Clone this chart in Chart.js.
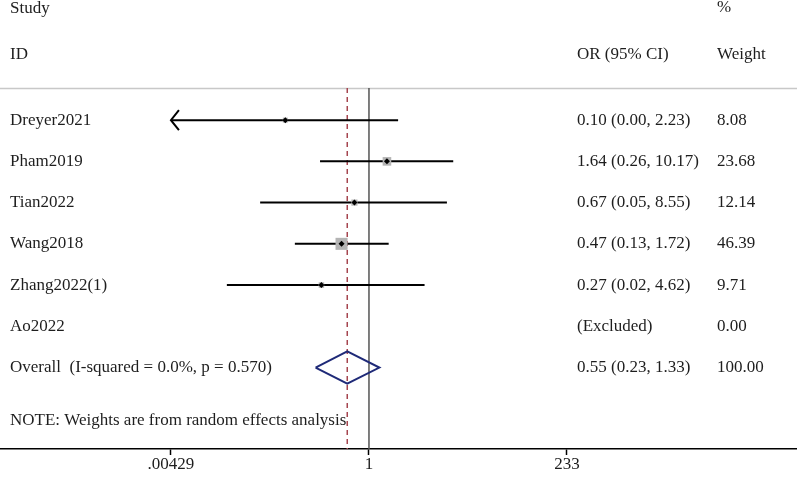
<!DOCTYPE html>
<html>
<head>
<meta charset="utf-8">
<script src="https://cdn.jsdelivr.net/npm/chart.js@4.4.1/dist/chart.umd.min.js"></script>
<style>
  html, body { margin: 0; padding: 0; background: #fff; }
  #wrap { width: 797px; height: 478px; position: relative; }
</style>
</head>
<body>
<div id="wrap"><canvas id="forest"></canvas></div>
<script>
// study data
const studies = ["Dreyer2021", "Pham2019", "Tian2022", "Wang2018", "Zhang2022(1)", "Ao2022"];
const orValues = [0.10, 1.64, 0.67, 0.47, 0.27, null];
const ciLower = [0.00, 0.26, 0.05, 0.13, 0.02, null];
const ciUpper = [2.23, 10.17, 8.55, 1.72, 4.62, null];
const weights = [8.08, 23.68, 12.14, 46.39, 9.71, 0.00];
const ciText = ["0.10 (0.00, 2.23)", "1.64 (0.26, 10.17)", "0.67 (0.05, 8.55)", "0.47 (0.13, 1.72)", "0.27 (0.02, 4.62)", "(Excluded)"];
const weightText = ["8.08", "23.68", "12.14", "46.39", "9.71", "0.00"];

const overallLabel = "Overall  (I-squared = 0.0%, p = 0.570)";
const overallOR = 0.55;
const overallLo = 0.23;
const overallHi = 1.33;
const overallCiText = "0.55 (0.23, 1.33)";
const overallWeightText = "100.00";

const tickValues = [0.00429, 1, 233];
const tickLabels = [".00429", "1", "233"];

const noteText = "NOTE: Weights are from random effects analysis";

// layout
const FONT = '17px "Liberation Serif", "Times New Roman", serif';
const TEXT = "#1e1e1e";
const overallRow = studies.length + 1;
const yMin = -1.913;
const yMax = 8.975;
const xMin = Math.pow(10, -4.411);
const xMax = Math.pow(10, 5.117);
const headerRuleRow = 0.22;
const diamondHalf = 0.39;
const ciFloor = tickValues[0];
const COL_LABEL = 10;
const COL_CI = 577;
const COL_WEIGHT = 717;

const datasets = [];

// point estimates (small black dots)
datasets.push({
  type: "scatter",
  data: studies.map((s, i) => orValues[i] == null ? null : { x: orValues[i], y: i + 1 }).filter(Boolean),
  pointStyle: "rectRot",
  pointRadius: 3,
  backgroundColor: "#000",
  borderWidth: 0
});

// weight boxes
const boxWeights = weights.filter((w, i) => orValues[i] != null);
datasets.push({
  type: "scatter",
  data: studies.map((s, i) => orValues[i] == null ? null : { x: orValues[i], y: i + 1 }).filter(Boolean),
  pointStyle: "rect",
  pointRadius: boxWeights.map((w) => 1.25 * Math.sqrt(w)),
  backgroundColor: "#b4b4b4",
  borderWidth: 0
});

// confidence interval lines
studies.forEach((s, i) => {
  if (orValues[i] == null) return;
  datasets.push({
    type: "line",
    data: [{ x: Math.max(ciLower[i], ciFloor), y: i + 1 }, { x: ciUpper[i], y: i + 1 }],
    borderColor: "#000",
    borderWidth: 2,
    pointRadius: 0,
    fill: false
  });
});

// overall diamond
datasets.push({
  type: "line",
  data: [
    { x: overallLo, y: overallRow },
    { x: overallOR, y: overallRow - diamondHalf },
    { x: overallHi, y: overallRow },
    { x: overallOR, y: overallRow + diamondHalf },
    { x: overallLo, y: overallRow }
  ],
  borderColor: "#1f2a78",
  borderWidth: 2,
  pointRadius: 0,
  tension: 0,
  fill: false
});

// overall effect (dashed) and null line
datasets.push({
  type: "line",
  data: [{ x: overallOR, y: headerRuleRow }, { x: overallOR, y: yMax }],
  borderColor: "#a5454f",
  borderWidth: 1.5,
  borderDash: [5, 4],
  pointRadius: 0
});
datasets.push({
  type: "line",
  data: [{ x: 1, y: headerRuleRow }, { x: 1, y: yMax }],
  borderColor: "#555",
  borderWidth: 1.5,
  pointRadius: 0
});

const textPlugin = {
  id: "forestText",
  beforeDatasetsDraw(chart) {
    const { ctx, scales: { y } } = chart;
    const yy = Math.round(y.getPixelForValue(headerRuleRow)) + 0.5;
    ctx.save();
    ctx.strokeStyle = "#c8c8c8";
    ctx.lineWidth = 1.5;
    ctx.beginPath();
    ctx.moveTo(0, yy);
    ctx.lineTo(chart.width, yy);
    ctx.stroke();
    ctx.restore();
  },
  afterDatasetsDraw(chart) {
    const { ctx, scales: { x, y } } = chart;
    ctx.save();
    ctx.font = FONT;
    ctx.fillStyle = TEXT;
    ctx.textBaseline = "middle";
    ctx.textAlign = "left";

    ctx.fillText("Study", COL_LABEL, y.getPixelForValue(-1.7));
    ctx.fillText("%", COL_WEIGHT, y.getPixelForValue(-1.74));
    ctx.fillText("ID", COL_LABEL, y.getPixelForValue(-0.58));
    ctx.fillText("OR (95% CI)", COL_CI, y.getPixelForValue(-0.58));
    ctx.fillText("Weight", COL_WEIGHT, y.getPixelForValue(-0.58));

    studies.forEach((s, i) => {
      const py = y.getPixelForValue(i + 1);
      ctx.fillText(s, COL_LABEL, py);
      ctx.fillText(ciText[i], COL_CI, py);
      ctx.fillText(weightText[i], COL_WEIGHT, py);
    });

    const oy = y.getPixelForValue(overallRow);
    ctx.fillText(overallLabel, COL_LABEL, oy);
    ctx.fillText(overallCiText, COL_CI, oy);
    ctx.fillText(overallWeightText, COL_WEIGHT, oy);

    ctx.fillText(noteText, COL_LABEL, y.getPixelForValue(8.28));

    // arrows where the CI runs past the axis
    ctx.strokeStyle = "#000";
    ctx.lineWidth = 2;
    studies.forEach((s, i) => {
      if (orValues[i] == null || ciLower[i] >= ciFloor) return;
      const tx = x.getPixelForValue(ciFloor);
      const ty = y.getPixelForValue(i + 1);
      ctx.beginPath();
      ctx.moveTo(tx + 8, ty - 10);
      ctx.lineTo(tx, ty);
      ctx.lineTo(tx + 8, ty + 10);
      ctx.stroke();
    });
    ctx.restore();
  }
};

new Chart(document.getElementById("forest"), {
  type: "scatter",
  data: { datasets },
  options: {
    responsive: true,
    maintainAspectRatio: false,
    animation: false,
    devicePixelRatio: 1,
    layout: { padding: 0, autoPadding: false },
    plugins: {
      legend: { display: false },
      tooltip: { enabled: false }
    },
    scales: {
      x: {
        type: "logarithmic",
        min: xMin,
        max: xMax,
        bounds: "data",
        afterBuildTicks: (scale) => {
          scale.ticks = tickValues.map((v) => ({ value: v }));
        },
        afterFit: (scale) => {
          scale.height = 29;
        },
        ticks: {
          callback: (v, i) => tickLabels[i],
          font: { family: '"Liberation Serif", "Times New Roman", serif', size: 17 },
          color: TEXT,
          padding: -1,
          autoSkip: false,
          maxRotation: 0
        },
        grid: {
          drawOnChartArea: false,
          drawTicks: true,
          tickLength: 6,
          tickColor: "#000",
          tickWidth: 1.5
        },
        border: { display: true, color: "#000", width: 1.5 }
      },
      y: {
        type: "linear",
        min: yMin,
        max: yMax,
        reverse: true,
        display: false
      }
    }
  },
  plugins: [textPlugin]
});
</script>
</body>
</html>
